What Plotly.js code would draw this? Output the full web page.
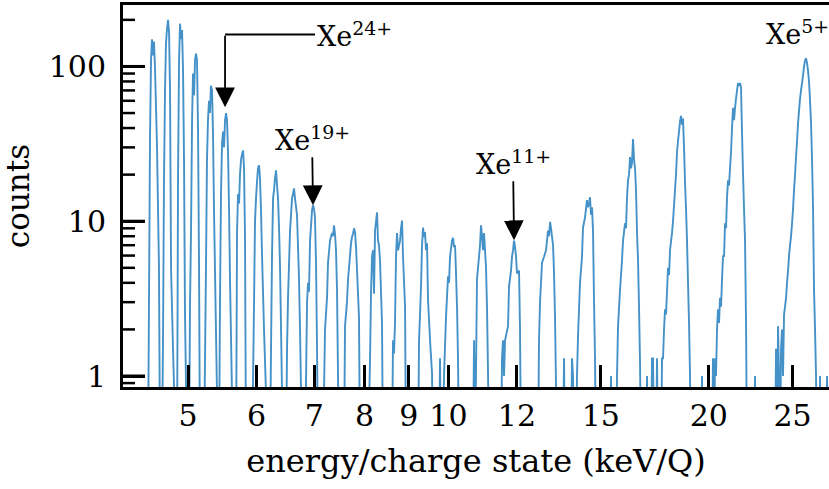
<!DOCTYPE html>
<html>
<head>
<meta charset="utf-8">
<script src="https://cdn.plot.ly/plotly-3.0.1.min.js"></script>
<style>html,body{margin:0;padding:0;background:#fff;}#chart{width:829px;height:489px;}</style>
</head>
<body>
<div id="chart"></div>
<script>
// Spectrum: energy/charge (keV/Q) and counts (0 = empty channel)
const energy = [
  // Xe29+
  4.495,4.519,4.531,4.543,4.555,4.567,4.580,4.604,4.628,4.641,
  // Xe28+
  4.665,4.678,4.690,4.703,4.715,4.728,4.741,4.754,4.766,4.779,4.804,4.843,
  // Xe27+
  4.856,4.869,4.882,4.895,4.908,4.921,4.934,4.947,4.960,4.987,
  // Xe26+
  5.013,5.027,5.040,5.054,5.067,5.081,5.094,5.108,5.121,5.135,5.149,5.162,
  // Xe25+
  5.217,5.245,5.259,5.273,5.287,5.301,5.315,5.330,5.344,5.358,5.386,5.416,
  // Xe24+
  5.430,5.445,5.459,5.474,5.489,5.503,5.518,5.533,5.547,5.562,5.577,5.592,5.607,5.637,
  // Xe23+
  5.682,5.697,5.712,5.727,5.742,5.758,5.773,5.789,5.804,5.819,5.835,
  // Xe22+
  5.929,5.961,5.976,5.992,6.008,6.024,6.040,6.056,6.072,6.089,6.121,6.187,
  // Xe21+
  6.220,6.237,6.253,6.270,6.287,6.303,6.320,6.337,6.354,6.371,6.388,6.405,6.439,
  // Xe20+
  6.491,6.508,6.525,6.560,6.595,6.612,6.630,6.648,6.683,6.719,6.737,6.773,
  // Xe19+
  6.827,6.864,6.882,6.900,6.919,6.956,6.974,6.993,7.011,7.030,7.049,7.067,
  // Xe18+
  7.162,7.200,7.239,7.258,7.297,7.336,7.355,7.375,7.395,7.414,7.434,7.454,7.474,
  // Xe17+
  7.574,7.594,7.634,7.655,7.696,7.716,7.737,7.758,7.778,7.799,7.820,7.841,7.882,7.903,
  // Xe16+
  8.074,8.117,8.139,8.160,8.182,8.204,8.226,8.248,8.270,8.291,8.313,8.335,8.380,8.402,
  // Xe15+
  8.606,8.629,8.652,8.675,8.698,8.721,8.745,8.792,8.815,8.839,8.862,8.910,8.933,
  // Xe14+
  9.223,9.248,9.272,9.297,9.322,9.347,9.371,9.396,9.421,9.447,9.472,9.523,9.573,9.599,9.753,9.779,9.805,
  // Xe13+
  9.857,9.883,9.936,9.990,10.017,10.043,10.097,10.124,10.151,10.178,10.205,10.232,10.259,10.286,
  // Xe12+
  10.677,10.706,10.734,10.763,10.791,10.849,10.878,10.907,10.936,10.965,10.994,11.053,11.082,11.112,11.142,
  // Xe11+
  11.504,11.534,11.565,11.596,11.627,11.720,11.751,11.814,11.845,11.877,11.909,11.941,11.972,12.004,12.068,12.100,12.133,
  // Xe10+
  12.694,12.728,12.762,12.830,12.898,12.967,13.037,13.072,13.107,13.142,13.177,13.212,13.247,13.282,13.353,
  13.567,13.604,13.640,13.859,13.896,13.933,13.970,
  // Xe9+
  14.045,14.082,14.120,14.195,14.271,14.309,14.386,14.462,14.501,14.540,14.578,14.617,14.656,14.695,14.735,14.774,14.813,
  15.376,15.417,15.458,
  // Xe8+
  15.623,15.665,15.707,15.791,15.875,15.918,16.002,16.045,16.088,16.131,16.174,16.217,16.260,16.304,16.347,16.391,16.434,16.478,16.522,16.566,16.610,16.655,16.699,
  16.922,16.968,17.013,17.150,17.195,17.241,17.287,17.379,17.425,17.472,
  // Xe7+
  17.612,17.659,17.706,17.753,17.800,17.848,17.943,17.991,18.039,18.135,18.183,18.281,18.329,18.378,18.427,18.476,18.525,18.575,18.624,18.674,18.724,18.774,18.824,18.874,18.924,18.975,19.025,19.076,
  19.591,19.643,19.695,20.173,20.226,
  // Xe6+
  20.280,20.334,20.388,20.443,20.498,20.553,20.607,20.662,20.717,20.773,20.828,20.884,20.939,20.995,21.051,21.107,21.163,21.220,21.276,21.333,21.390,21.447,21.504,21.561,21.619,21.677,21.734,21.792,21.850,21.909,21.967,22.026,22.084,22.143,
  22.559,22.619,22.680,
  // Xe5+
  23.856,23.920,23.984,24.048,24.112,24.176,24.241,24.306,24.370,24.435,24.500,24.566,24.631,24.697,24.763,24.829,24.895,24.962,25.028,25.095,25.162,25.229,25.296,25.363,25.431,25.499,25.566,25.635,25.703,25.771,25.840,25.909,25.978,26.047,26.116,26.186,26.256,26.326,26.396,26.466,26.537,26.608,26.679,
  26.821,26.893,26.965,27.326,27.399,27.472
];
const counts = [
  0,35,110,150,118,145,95,30,5,0,
  0,1.7,18,70,140,175,200,165,70,5,1.5,0,
  0,20,110,189,150,172,95,25,2.5,0,
  0,3,8.5,45,90,65,110,121,110,40,5,0,
  0,5,25,45,60,50,75,70,37,12,2,0,
  0,3.4,15,32,38,30,45,50,45,28,12,4,1.7,0,
  0,8.5,15,13,20,25,27,28.7,22,8,0,
  0,3,10,14,18,22,23,19,12,6,2,0,
  0,1.6,6,14,16,19,21.3,17,14,9,5,2,0,
  0,1.5,3.2,8.7,14,15,16.3,14,11,4.2,2,0,
  0,3,4,3.5,7.5,11.8,12.7,12,10.6,5.4,1.5,0,
  0,2,3.2,5.4,7.5,8.4,8,9.4,8.2,6.5,3.6,1,0,
  0,2.1,3,4.2,6,7.2,7.9,8.3,9,8.5,6.8,4.8,2.4,0,
  0,1.3,3.5,5.9,6.5,3.4,8.7,10,11.4,7.5,7,5.6,2.2,0,
  0,1.7,1.4,2.2,5.9,8.4,6.5,7.5,9,10.1,5.9,2.8,0,
  0,1.7,2.5,3.8,7,9.1,7.9,8.5,6.5,7.2,3.1,1.7,1.05,0,0,1.3,0,
  0,1,2.4,4.4,4,5.9,7.5,7.8,6.8,7,4.6,2.8,1.3,0,
  0,1.7,0,1.1,4.2,5.9,7,9.4,8,6.5,8.4,5,2.8,1.05,0,
  0,1.3,1.7,1,1.7,2.1,3.8,4.8,5.9,6.5,7.5,6.8,5.9,4.6,4.8,2,0,
  0,1.7,3,5.4,5.9,6.5,8.7,8,9.9,9,7.9,7,4.6,2.4,0,
  0,1.3,0,0,1.3,1,0,
  0,1,1.8,4,5.9,9.1,10.6,13.7,12.3,13,14.3,11,12.3,8.7,3,1.3,0,
  0,1,0,
  0,1,2.1,3.6,5.6,7.5,9.7,9,14.3,18.4,20,26,22,24,34,25,22,15.8,8.4,5.6,2.8,1.2,0,
  0,1,0,0,1.3,1.3,0,0,1.3,0,
  0,1.3,1.3,2,2.7,2.5,5,4.5,6.5,8.4,10,16,20,28,33,38,44,48,42,46,30,17.6,12,7.5,4,2.2,1,0,
  0,1,0,0,1.3,
  0,1.3,1,2,2.7,2.2,3.2,2.8,4.2,6,5.9,9.7,9,14.3,18.4,17,22,28,40,54,45,54,62,70,78,75,78,73,37,20,12,7.5,2.2,0,
  0,1,0,
  0,1.5,0,2.1,1,0,1.5,2,1,2.5,2.8,3.2,4,4.8,6,7,8,9.7,12,16,20,26,33,43,52,62,70,78,88,100,109,113,105,94,80,60,43,25,12.3,3.6,2,1,0,
  0,1,0,0,1,0
];

const xTickVals = [5, 6, 7, 8, 9, 10, 12, 15, 20, 25];
const xTickText = ['5', '6', '7', '8', '9', '10', '12', '15', '20', '25'];
const yTickVals = [1, 10, 100];
const yTickText = ['1', '10', '100'];
const yMinorVals = [0.9, 2, 3, 4, 5, 6, 7, 8, 9, 20, 30, 40, 50, 60, 70, 80, 90, 200];

// labelled peaks: arrow tip at the peak, label above it
const labelText   = ['Xe<sup>24+</sup>', 'Xe<sup>19+</sup>', 'Xe<sup>11+</sup>', 'Xe<sup>5+</sup>'];
const arrowEnergy = [5.518, 6.974, 11.909];
const arrowCounts = [54.4, 12.7, 7.54];
const bendCounts  = 160.9;          // height of the Xe24+ leader line
const xe5Energy = 25.30, xe5Counts = 162;

const xRange = [0.6238, 1.4400];
const yRange = [-0.071, 2.397];
const PLOT_W = 829 - 123;

const EMPTY = 0.3; // empty channels drawn below the axis floor, as in a clipped log plot
const lg = Math.log10;
const FONT = 'DejaVu Serif, Liberation Serif, serif';
const AFONT = {family: FONT, size: 27, color: '#000'};

const trace = {
  x: energy,
  y: counts.map(c => c > 0 ? c : EMPTY),
  type: 'scatter',
  mode: 'lines',
  line: {color: '#4592c8', width: 1.9, simplify: false},
  hoverinfo: 'skip',
  showlegend: false
};

// inward y tick marks drawn as short segments from the left spine
function tickSegments(vals, lenPx) {
  const x0 = Math.pow(10, xRange[0]);
  const x1 = Math.pow(10, xRange[0] + lenPx * (xRange[1] - xRange[0]) / PLOT_W);
  const xs = [], ys = [];
  vals.forEach(v => { xs.push(x0, x1, null); ys.push(v, v, null); });
  return {xs, ys};
}
const minSeg = tickSegments(yMinorVals, 12);
const majSeg = tickSegments(yTickVals, 22);
const minorTicks = {x: minSeg.xs, y: minSeg.ys, type: 'scatter', mode: 'lines', connectgaps: false,
  line: {color: '#000', width: 2.5}, hoverinfo: 'skip', showlegend: false};
const majorTicks = {x: majSeg.xs, y: majSeg.ys, type: 'scatter', mode: 'lines', connectgaps: false,
  line: {color: '#000', width: 3}, hoverinfo: 'skip', showlegend: false};

const annotations = [
  // Xe24+ label with horizontal leader to the bend
  {x: lg(arrowEnergy[0]), y: lg(bendCounts), text: labelText[0], showarrow: true, arrowhead: 0,
   ax: 129, ay: 0, arrowwidth: 1.8, arrowcolor: '#000', standoff: 0, font: AFONT},
  // Xe24+ vertical arrow from the bend down to the peak
  {x: lg(arrowEnergy[0]), y: lg(arrowCounts[0]), text: '', showarrow: true, arrowhead: 2,
   arrowsize: 2.2, arrowwidth: 1.8, ax: 0, ay: -73, arrowcolor: '#000'},
  // Xe19+
  {x: lg(arrowEnergy[1]), y: lg(arrowCounts[1]), text: labelText[1], showarrow: true, arrowhead: 2,
   arrowsize: 2.2, arrowwidth: 1.8, ax: -1, ay: -67, arrowcolor: '#000', font: AFONT},
  // Xe11+
  {x: lg(arrowEnergy[2]), y: lg(arrowCounts[2]), text: labelText[2], showarrow: true, arrowhead: 2,
   arrowsize: 2.2, arrowwidth: 1.8, ax: -1, ay: -78, arrowcolor: '#000', font: AFONT},
  // Xe5+
  {x: lg(xe5Energy), y: lg(xe5Counts), text: labelText[3], showarrow: false,
   xanchor: 'center', yanchor: 'middle', yshift: 2, font: AFONT}
];

const layout = {
  width: 829, height: 489,
  margin: {l: 123, r: 0, t: 5, b: 102},
  paper_bgcolor: '#fff', plot_bgcolor: '#fff',
  font: {family: FONT, color: '#000', size: 30},
  xaxis: {
    type: 'log', range: xRange,
    tickmode: 'array', tickvals: xTickVals, ticktext: xTickText,
    ticks: 'inside', ticklen: 22, tickwidth: 3, tickcolor: '#000',
    ticklabelstandoff: 0,
    showline: true, linewidth: 3, linecolor: '#000', mirror: true,
    showgrid: false, zeroline: false,
    tickfont: {family: FONT, size: 30, color: '#000'},
    title: {text: 'energy/charge state (keV/Q)', font: {family: FONT, size: 32, color: '#000'}, standoff: 18}
  },
  yaxis: {
    type: 'log', range: yRange,
    tickmode: 'array', tickvals: yTickVals, ticktext: yTickText,
    ticks: 'inside', ticklen: 22, tickwidth: 3, tickcolor: '#000',
    ticklabelstandoff: 8,
    showline: true, linewidth: 3, linecolor: '#000', mirror: false,
    showgrid: false, zeroline: false,
    tickfont: {family: FONT, size: 30, color: '#000'},
    title: {text: 'counts', font: {family: FONT, size: 31, color: '#000'}, standoff: 24}
  },
  annotations: annotations,
  showlegend: false
};

Plotly.newPlot('chart', [trace, minorTicks, majorTicks], layout, {staticPlot: true, displayModeBar: false});
</script>
</body>
</html>
